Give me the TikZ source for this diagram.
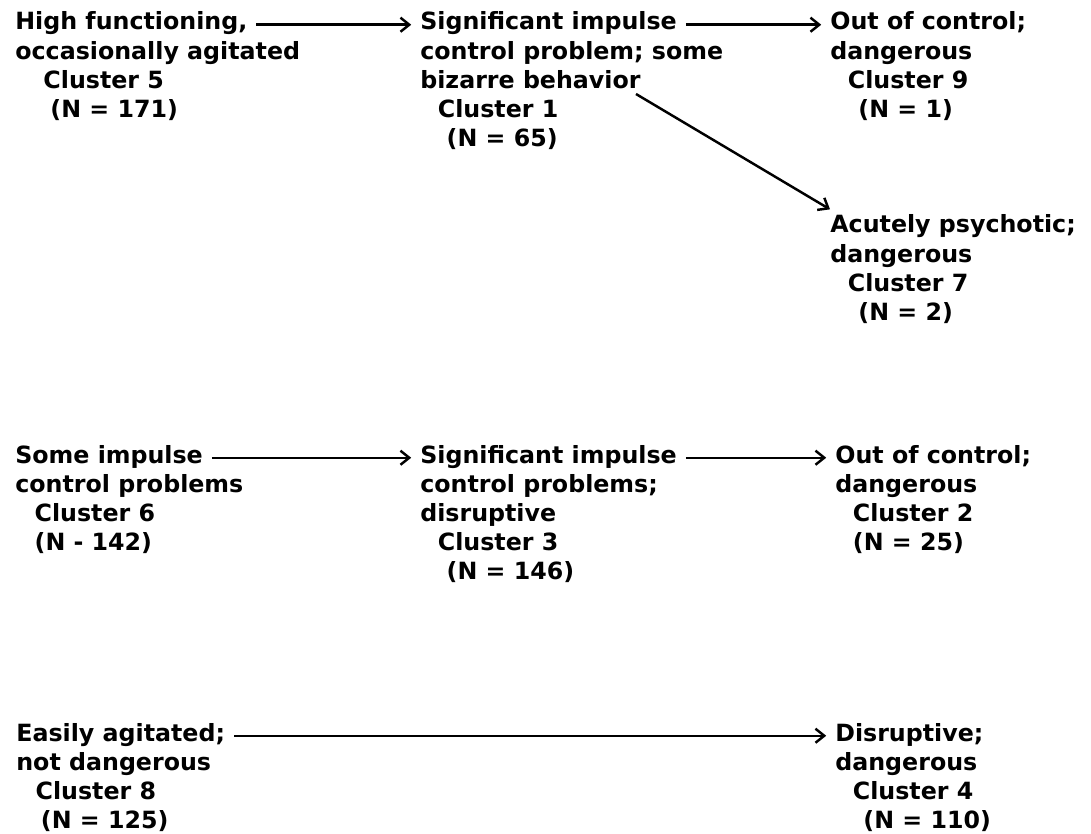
\documentclass[tikz,border=0pt]{standalone}
\usepackage{fontspec}
\setmainfont{DejaVu Sans}
\usepackage{tikz}
\usetikzlibrary{calc,arrows.meta}

\begin{document}
\begin{tikzpicture}[x=0.02cm,y=-0.02cm]
      \tikzset{head/.style={inner sep=0pt,
          anchor=base west,
          font=\fontsize{13.5}{16.5}\selectfont\bfseries},
        body/.style={head, anchor=north west, align=left, yshift=-4.95pt},
        flow/.style={line width=1.4pt, -{Straight Barb[length=5pt,width=8pt]}},
        span/.style={flow, shorten <=5pt, shorten >=5pt}
      }
      \useasboundingbox (0,0) rectangle (1091,834);

      \node [head] (c5) at (15,30) {High functioning,};
      \node [body] (c5b) at (c5.base west) {\strut occasionally agitated\\
        \hspace*{16pt}Cluster 5\\ \hspace*{20pt}(N = 171)};
      \node [head] (c1) at (420,30) {Significant impulse};
      \node [body] (c1b) at (c1.base west) {\strut control problem; some\\
        bizarre behavior\\ \hspace*{10pt}Cluster 1\\ \hspace*{15pt}(N = 65)};
      \node [head] (c9) at (830,30) {Out of control;};
      \node [body] (c9b) at (c9.base west) {\strut dangerous\\
        \hspace*{10pt}Cluster 9\\ \hspace*{16pt}(N = 1)};
      \node [head] (c7) at (830,233) {Acutely psychotic;};
      \node [body] (c7b) at (c7.base west) {\strut dangerous\\
        \hspace*{10pt}Cluster 7\\ \hspace*{16pt}(N = 2)};

      \node [head] (c6) at (15,463) {Some impulse};
      \node [body] (c6b) at (c6.base west) {\strut control problems\\
        \hspace*{11pt}Cluster 6\\ \hspace*{11pt}(N - 142)};
      \node [head] (c3) at (420,463) {Significant impulse};
      \node [body] (c3b) at (c3.base west) {\strut control problems;\\
        disruptive\\ \hspace*{10pt}Cluster 3\\ \hspace*{15pt}(N = 146)};
      \node [head] (c2) at (835,463) {Out of control;};
      \node [body] (c2b) at (c2.base west) {\strut dangerous\\
        \hspace*{10pt}Cluster 2\\ \hspace*{10pt}(N = 25)};

      \node [head] (c8) at (16,741) {Easily agitated;};
      \node [body] (c8b) at (c8.base west) {\strut not dangerous\\
        \hspace*{11pt}Cluster 8\\ \hspace*{14pt}(N = 125)};
      \node [head] (c4) at (835,741) {Disruptive;};
      \node [body] (c4b) at (c4.base west) {\strut dangerous\\
        \hspace*{10pt}Cluster 4\\ \hspace*{16pt}(N = 110)};

      \draw [span] ([yshift=3pt]c5.base east) -- ([yshift=3pt]c1.base west);
      \draw [span] ([yshift=3pt]c1.base east) -- ([yshift=3pt]c9.base west);
      \coordinate (c1t) at (636,94);
      \draw [flow] (c1t) -- ([yshift=3pt]c7.north west);
      \draw [span] ([yshift=3pt]c6.base east) -- ([yshift=3pt]c3.base west);
      \draw [span] ([yshift=3pt]c3.base east) -- ([yshift=3pt]c2.base west);
      \draw [span] ([yshift=3pt]c8.base east) -- ([yshift=3pt]c4.base west);
    \end{tikzpicture}
\end{document}
